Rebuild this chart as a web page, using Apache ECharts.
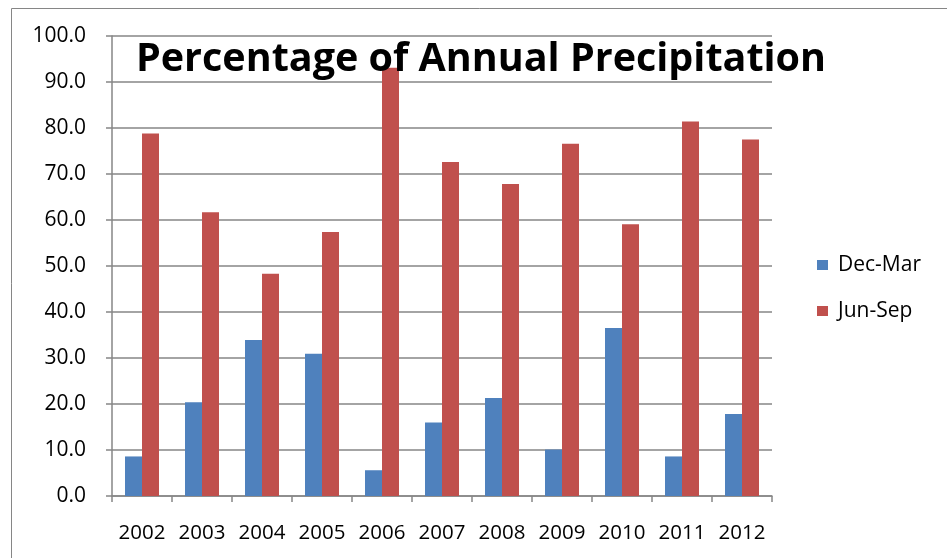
<!DOCTYPE html>
<html><head><meta charset="utf-8">
<script src="https://cdn.jsdelivr.net/npm/echarts@6/dist/echarts.min.js"></script>
<style>html,body{margin:0;padding:0;background:#fff}#c{width:947px;height:558px}</style>
</head><body><div id="c"></div>
<script>
const years = ['2002','2003','2004','2005','2006','2007','2008','2009','2010','2011','2012'];
const decMar = [8.6, 20.4, 33.9, 30.9, 5.6, 16.0, 21.3, 10.1, 36.5, 8.6, 17.8];
const junSep = [78.8, 61.7, 48.3, 57.4, 93.1, 72.6, 67.8, 76.6, 59.1, 81.4, 77.5];
const titleText = 'Percentage of Annual Precipitation';

const chart = echarts.init(document.getElementById('c'));
const font = 'Open Sans';
chart.setOption({
  animation: false,
  backgroundColor: '#fff',
  graphic: [{type:'rect', shape:{x:11.5,y:8.5,width:1000,height:600}, style:{fill:'none',stroke:'#868686',lineWidth:1}, z:-1}],
  title: {text: titleText, left: 476, top: 35, textAlign: 'center',
    textStyle:{fontFamily:font, fontWeight:'bold', fontSize:39.5, color:'#000'}},
  grid: {left:112, right:175, top:36, bottom:62, containLabel:false},
  legend: {orient:'vertical', left:812, top:249, itemWidth:11, itemHeight:10, itemGap:24,
    icon:'rect', textStyle:{fontFamily:font, fontSize:21, lineHeight:22, color:'#000', padding:[0,0,0,5]}},
  xAxis: {type:'category', data: years,
    axisLine:{lineStyle:{color:'#868686', width:1.5}},
    axisTick:{show:true, length:6, lineStyle:{color:'#868686', width:1.5}},
    axisLabel:{fontFamily:font, fontSize:20.5, color:'#000', margin:27, interval:0, hideOverlap:false}},
  yAxis: {type:'value', min:0, max:100, interval:10,
    axisLine:{show:true, lineStyle:{color:'#868686', width:1.5}},
    axisTick:{show:true, length:6, lineStyle:{color:'#868686', width:1.5}},
    splitLine:{lineStyle:{color:'#868686', width:1.5}},
    axisLabel:{fontFamily:font, fontSize:21, color:'#000', margin:26, formatter: v => v.toFixed(1)}},
  series: [
    {name:'Dec-Mar', type:'bar', data: decMar, barWidth:17, barGap:'0%', itemStyle:{color:'#4F81BD'}},
    {name:'Jun-Sep', type:'bar', data: junSep, barWidth:17, barGap:'0%', itemStyle:{color:'#C0504D'}}
  ]
});
</script></body></html>
